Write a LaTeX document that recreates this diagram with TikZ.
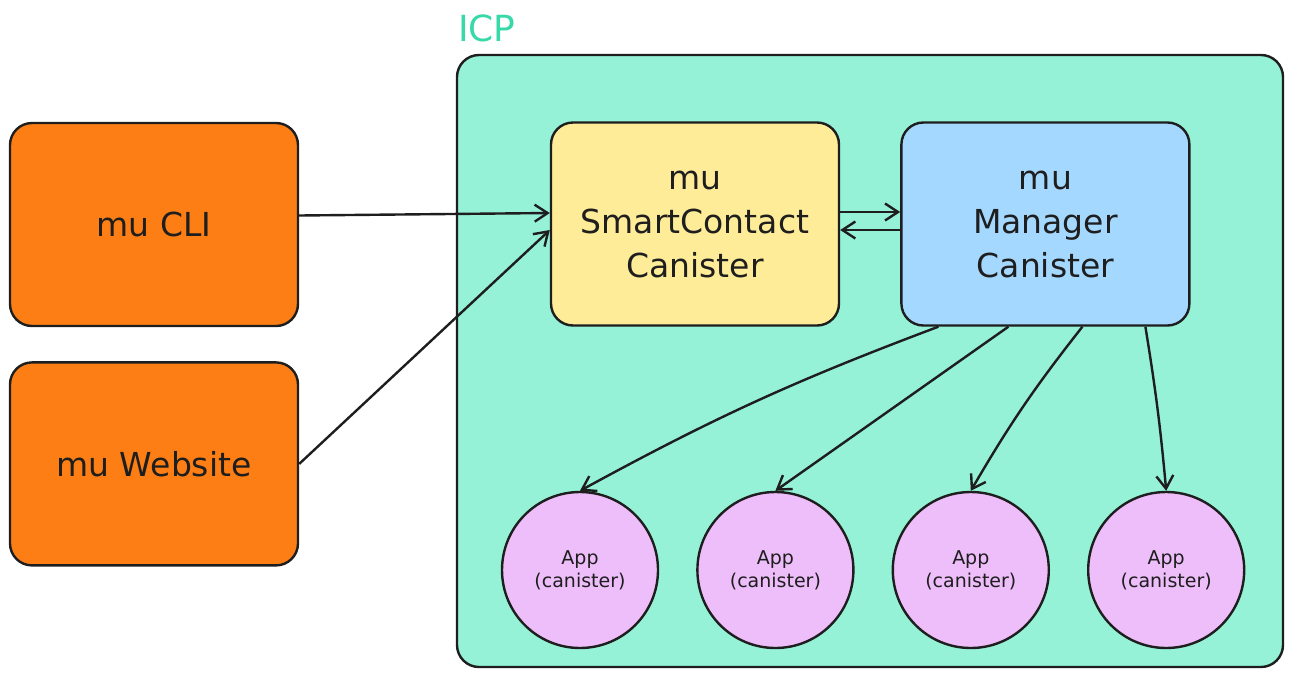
\documentclass[tikz,border=0pt]{standalone}
\usepackage{fontspec}
\setmainfont{DejaVu Sans}
\usetikzlibrary{arrows.meta, positioning}
\definecolor{icpgreen}{HTML}{96F2D7}
\definecolor{icplabel}{HTML}{38D9A9}
\definecolor{muorange}{HTML}{FD7E14}
\definecolor{muyellow}{HTML}{FFEC99}
\definecolor{mublue}{HTML}{A5D8FF}
\definecolor{mupurple}{HTML}{EEBEFA}
\definecolor{muink}{HTML}{1E1E1E}
\tikzset{
  >={Straight Barb[length=13pt, width=17pt, line width=2.4pt]},
  box/.style={rectangle, rounded corners=22pt, draw=muink, line width=2.4pt,
              align=center, minimum width=288pt, minimum height=203pt,
              font=\fontsize{33}{44}\selectfont, text=muink},
  boxo/.style={box, fill=muorange},
  boxy/.style={box, fill=muyellow},
  boxb/.style={box, fill=mublue},
  app/.style={circle, draw=muink, line width=2.4pt, fill=mupurple, minimum size=156pt,
              align=center, font=\fontsize{19}{23}\selectfont, text=muink},
  flow/.style={->, line width=2.4pt, draw=muink},
}
\newcommand{\muname}{mu}

\begin{document}
\begin{tikzpicture}[x=1pt, y=-1pt]
  \useasboundingbox (0,0) rectangle (1293,678);
  % ICP area
  \node[rectangle, rounded corners=22pt, draw=muink, line width=2.4pt, fill=icpgreen,
        minimum width=826pt, minimum height=612pt] (icp) at (870,361) {};
  \node[anchor=south west, inner sep=0pt, text=icplabel, font=\fontsize{36}{40}\selectfont]
    (icplbl) at (458,42) {ICP};
  % clients
  \node[boxo] (cli) at (154,224.5) {\muname{} CLI};
  \node[boxo, below=34pt of cli] (web) {\muname{} Website};
  % canisters
  \node[boxy] (sc) at (695,224) {\muname\\SmartContact\\Canister};
  \node[boxb, right=60pt of sc] (mgr) {\muname\\Manager\\Canister};
  \node[app] (app1) at (580,570) {App\\(canister)};
  \node[app, right=37pt of app1] (app2) {App\\(canister)};
  \node[app, right=37pt of app2] (app3) {App\\(canister)};
  \node[app, right=37pt of app3] (app4) {App\\(canister)};
  % calls
  \draw[flow] ([yshift=9pt]cli.east) -- ([yshift=11pt]sc.west);
  \draw[flow] (web.east) -- ([yshift=-6pt]sc.west);
  \draw[flow] ([yshift=12pt]sc.east) -- ([yshift=12pt]mgr.west);
  \draw[flow] ([yshift=-6pt]mgr.west) -- ([yshift=-6pt]sc.east);
  \draw[flow] ([xshift=-107pt]mgr.south) to[bend right=4] (app1.north);
  \draw[flow] ([xshift=-37pt]mgr.south) -- (app2.north);
  \draw[flow] ([xshift=37pt]mgr.south) to[bend right=4] (app3.north);
  \draw[flow] ([xshift=100pt]mgr.south) to[bend left=2] (app4.north);
\end{tikzpicture}
\end{document}
